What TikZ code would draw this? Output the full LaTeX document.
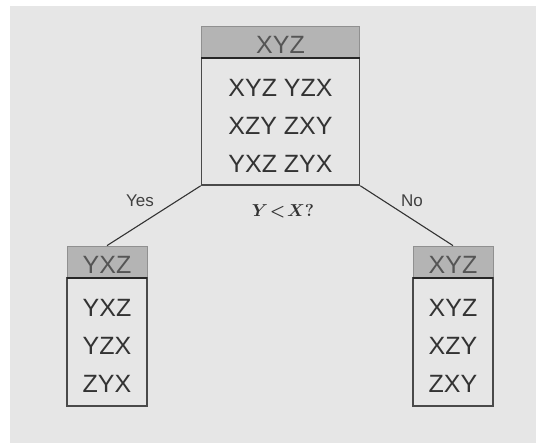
\documentclass[tikz,border=0pt]{standalone}
\usepackage{fontspec}
\usepackage{bm}
\newfontfamily\sansf{Liberation Sans}
\definecolor{bg}{HTML}{E6E6E6}
\definecolor{hdrfill}{HTML}{B4B4B4}
\definecolor{hdrtext}{HTML}{555555}
\definecolor{bodytext}{HTML}{333333}
\definecolor{edge}{HTML}{4A4A4A}
\tikzset{
  hdr/.style={rectangle, draw=hdrfill!80!black, line width=0.8pt, fill=hdrfill, text=hdrtext,
    inner sep=0pt, font=\sansf\fontsize{25}{28}\selectfont},
  hdrtxt/.style={text=hdrtext, inner sep=0pt, font=\sansf\fontsize{25}{28}\selectfont, yshift=-2.5pt},
  bodybox/.style={rectangle, draw=edge, line width=1.6pt, fill=bg, inner sep=0pt},
  bodytxt/.style={text=bodytext, inner sep=0pt, align=center, yshift=-4pt,
    font=\sansf\fontsize{25}{38}\selectfont},
  sep/.style={draw=black!85, line width=2pt},
  conn/.style={draw=black!80, line width=1.1pt},
  lbl/.style={text=black!75, font=\sansf\fontsize{17}{20}\selectfont, inner sep=0pt}
}
\begin{document}
\begin{tikzpicture}[x=1pt,y=-1pt]
\useasboundingbox (0,0) rectangle (536,443);
\fill[bg] (10,6) rectangle (536,443);
% top box
\node[hdr, minimum width=158pt, minimum height=32pt,
  label={[hdrtxt]center:XYZ}] (th) at (280.5,42) {};
\node[bodybox, minimum width=158pt, minimum height=127pt,
  label={[bodytxt]center:{XYZ YZX\\XZY ZXY\\YXZ ZYX}}] (tb) at (280.5,121.5) {};
\draw[sep] (th.south west) -- (th.south east);
% left box
\node[hdr, minimum width=80pt, minimum height=32pt,
  label={[hdrtxt]center:YXZ}] (lh) at (107,262) {};
\node[bodybox, minimum width=80pt, minimum height=128pt,
  label={[bodytxt]center:{YXZ\\YZX\\ZYX}}] (lb) at (107,342) {};
\draw[sep] (lh.south west) -- (lh.south east);
% right box
\node[hdr, minimum width=80pt, minimum height=32pt,
  label={[hdrtxt]center:XYZ}] (rh) at (453,262) {};
\node[bodybox, minimum width=80pt, minimum height=128pt,
  label={[bodytxt]center:{XYZ\\XZY\\ZXY}}] (rb) at (453,342) {};
\draw[sep] (rh.south west) -- (rh.south east);
% connectors
\draw[conn] (tb.south west) -- (lh.north);
\draw[conn] (tb.south east) -- (rh.north);
% labels
\node[lbl] (yes) at (140,201) {Yes};
\node[lbl] (no) at (412,201) {No};
\node[inner sep=0pt, text=bodytext, font=\fontsize{17}{20}\selectfont] (q) at (283,211) {$\bm{Y\!<\!X?}$};
\end{tikzpicture}
\end{document}
